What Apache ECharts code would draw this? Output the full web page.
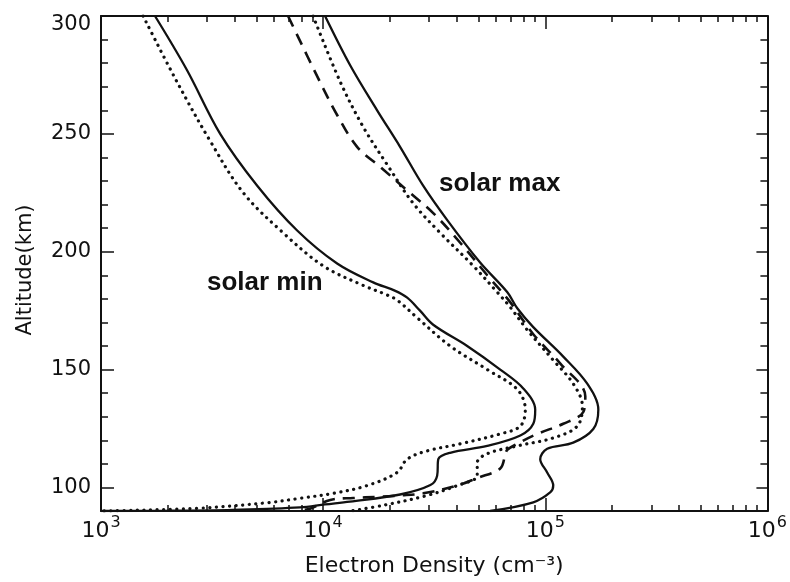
<!DOCTYPE html>
<html>
<head>
<meta charset="utf-8">
<script src="https://cdn.jsdelivr.net/npm/echarts@6/dist/echarts.min.js"></script>
<style>
  html, body { margin: 0; padding: 0; background: #fff; }
  #chart { width: 790px; height: 582px; }
</style>
</head>
<body>
<div id="chart"></div>
<script>
// ---- Axis ticks / labels ----
const xMajorTicks = [1000, 10000, 100000, 1000000];
const xTickExponents = ['3', '4', '5', '6'];
const xMinorTicks = [2000, 3000, 4000, 5000, 6000, 7000, 8000, 9000,
  20000, 30000, 40000, 50000, 60000, 70000, 80000, 90000,
  200000, 300000, 400000, 500000, 600000, 700000, 800000, 900000];
const yMajorTicks = [100, 150, 200, 250, 300];
const yMinorTicks = [110, 120, 130, 140, 160, 170, 180, 190, 210, 220, 230, 240, 260, 270, 280, 290];

// ---- Series values (electron density cm^-3, altitude km) ----
const minSolidDensity = [1750, 2440, 3440, 5050, 7640, 11560, 16800, 21000, 23900, 27300, 31300, 44500, 62700, 79600, 90100, 88300, 77200, 54800, 37300, 33000, 32600, 30400, 22200, 13200, 10200, 7870, 3930, 1980, 1000];
const minSolidAlt     = [300, 277, 250, 228, 209, 195, 187, 183.5, 180.5, 175, 169, 160, 150, 142, 133, 127, 122, 117.6, 114.7, 112, 105, 101, 97, 94, 92.8, 91.5, 90.5, 90.1, 90];

const minDotDensity = [1547, 2200, 3100, 4370, 6610, 10000, 15140, 19000, 21500, 26500, 37300, 54800, 74800, 81300, 77200, 62700, 41400, 29400, 23900, 21500, 15800, 11100, 7870, 5600, 2790, 1390, 1000];
const minDotAlt     = [300, 272, 247, 225, 208, 194, 185.7, 182, 179.5, 172, 160, 150, 141.6, 133, 126, 122.7, 118.5, 115.5, 112, 106.3, 100.8, 97.5, 95.4, 93.5, 91.2, 90.3, 90];

const maxSolidDensity = [10200, 13250, 17500, 22200, 28200, 36200, 50900, 67500, 74800, 88300, 120500, 154500, 173300, 164500, 133600, 102000, 94900, 102000, 108600, 105500, 88300, 56500];
const maxSolidAlt     = [300, 279, 260, 244.5, 228, 213.4, 195.4, 182.8, 176, 168, 155.5, 144, 133, 124.8, 119, 116.4, 112, 106.3, 100.8, 98, 93.7, 90];

const maxDotDensity = [9010, 11950, 15140, 19400, 25400, 33650, 47400, 60800, 69500, 83000, 108600, 133600, 146900, 139300, 108600, 74800, 54800, 49400, 49400, 40200, 29400, 18600, 13250];
const maxDotAlt     = [300, 272, 253, 237, 220.6, 208, 194, 182.8, 176.5, 166.8, 154, 144, 134.5, 126, 121, 117.6, 114.3, 110.5, 105, 100.8, 96.6, 92.4, 90];

const maxDashDensity = [6950, 9680, 11560, 14220, 18070, 23900, 31300, 41400, 54800, 69500, 88300, 116900, 151400, 148300, 120500, 92000, 74800, 67500, 66100, 62700, 49400, 40200, 28200, 22200, 17500, 13650, 10760, 8730, 7640];
const maxDashAlt     = [300, 272, 258, 244.5, 236, 226, 216.4, 203.8, 190, 178.6, 165, 152.5, 138.7, 132, 127, 122.7, 118.5, 116, 114, 108, 104, 100.8, 97.5, 96.6, 96, 95.5, 94.7, 91, 90];

// ---- Texts ----
const xTitle = 'Electron Density (cm\u207B\u00B3)';
const yTitle = 'Altitude(km)';
const annotations = [
  { text: 'solar max', x: 439, y: 184 },
  { text: 'solar min', x: 207, y: 283 }
];

function zip(xs, ys) { return xs.map((v, i) => [v, ys[i]]); }

const INK = '#111';
const FONT = 'DejaVu Sans';

const chart = echarts.init(document.getElementById('chart'), null, { renderer: 'canvas' });

const solid = { color: INK, width: 2.3, type: 'solid' };
const dotted = { color: INK, width: 3.2, type: [0.1, 6.5], cap: 'round' };
const dashed = { color: INK, width: 2.6, type: [12, 8] };

function lineSeries(name, data, style) {
  return {
    name: name, type: 'line', data: data,
    xAxisIndex: 0, yAxisIndex: 0,
    showSymbol: false, symbol: 'none', smooth: 0.35,
    lineStyle: style, clip: true, silent: true, animation: false
  };
}

const axisLineStyle = { show: true, lineStyle: { color: INK, width: 2 } };

const option = {
  animation: false,
  backgroundColor: '#fff',
  grid: { left: 101, right: 22, top: 16, bottom: 66, containLabel: false },
  xAxis: [
    {
      type: 'log', logBase: 10, min: 1000, max: 1000000, position: 'bottom',
      axisLine: axisLineStyle,
      axisTick: { show: true, inside: true, length: 13, customValues: xMajorTicks, lineStyle: { color: INK, width: 1.5 } },
      axisLabel: {
        show: true, customValues: xMajorTicks, margin: 9,
        formatter: function (v) {
          const idx = xMajorTicks.indexOf(v);
          const e = idx >= 0 ? xTickExponents[idx] : '';
          return '{b|10}{s|' + e + '}';
        },
        rich: {
          b: { fontFamily: FONT, fontSize: 22, color: INK, verticalAlign: 'bottom', lineHeight: 22 },
          s: { fontFamily: FONT, fontSize: 16, color: INK, verticalAlign: 'bottom', padding: [0, 0, 11, 1], lineHeight: 16 }
        }
      },
      splitLine: { show: false },
      name: xTitle, nameLocation: 'middle', nameGap: 44,
      nameTextStyle: { fontFamily: FONT, fontSize: 22, color: INK }
    },
    {
      type: 'log', logBase: 10, min: 1000, max: 1000000, position: 'bottom',
      axisLine: { show: false },
      axisTick: { show: true, inside: true, length: 6, customValues: xMinorTicks, lineStyle: { color: INK, width: 1.5 } },
      axisLabel: { show: false },
      splitLine: { show: false }
    },
    {
      type: 'log', logBase: 10, min: 1000, max: 1000000, position: 'top',
      axisLine: axisLineStyle,
      axisTick: { show: true, inside: true, length: 13, customValues: xMajorTicks, lineStyle: { color: INK, width: 1.5 } },
      axisLabel: { show: false },
      splitLine: { show: false }
    },
    {
      type: 'log', logBase: 10, min: 1000, max: 1000000, position: 'top',
      axisLine: { show: false },
      axisTick: { show: true, inside: true, length: 6, customValues: xMinorTicks, lineStyle: { color: INK, width: 1.5 } },
      axisLabel: { show: false },
      splitLine: { show: false }
    }
  ],
  yAxis: [
    {
      type: 'value', min: 90, max: 300, position: 'left',
      axisLine: axisLineStyle,
      axisTick: { show: true, inside: true, length: 13, customValues: yMajorTicks, lineStyle: { color: INK, width: 1.5 } },
      axisLabel: {
        show: true, customValues: yMajorTicks, margin: 10,
        formatter: function (v) { return v === 300 ? '{t|' + v + '}' : '{n|' + v + '}'; },
        rich: {
          n: { fontFamily: FONT, fontSize: 21, color: INK },
          t: { fontFamily: FONT, fontSize: 21, color: INK, padding: [18, 0, 0, 0] }
        }
      },
      splitLine: { show: false }
    },
    {
      type: 'value', min: 90, max: 300, position: 'left',
      axisLine: { show: false },
      axisTick: { show: true, inside: true, length: 7, customValues: yMinorTicks, lineStyle: { color: INK, width: 1.5 } },
      axisLabel: { show: false },
      splitLine: { show: false }
    },
    {
      type: 'value', min: 90, max: 300, position: 'right',
      axisLine: axisLineStyle,
      axisTick: { show: true, inside: true, length: 11, customValues: yMajorTicks, lineStyle: { color: INK, width: 1.5 } },
      axisLabel: { show: false },
      splitLine: { show: false }
    },
    {
      type: 'value', min: 90, max: 300, position: 'right',
      axisLine: { show: false },
      axisTick: { show: true, inside: true, length: 7, customValues: yMinorTicks, lineStyle: { color: INK, width: 1.5 } },
      axisLabel: { show: false },
      splitLine: { show: false }
    }
  ],
  graphic: [
    {
      type: 'text', x: 26, y: 270, rotation: Math.PI / 2,
      style: { text: yTitle, fontFamily: FONT, fontSize: 21, fill: INK, textAlign: 'center', textVerticalAlign: 'middle' }
    }
  ].concat(annotations.map(a => ({
    type: 'text', x: a.x, y: a.y,
    style: { text: a.text, fontFamily: 'Liberation Sans', fontWeight: 'bold', fontSize: 26, fill: INK, textAlign: 'left', textVerticalAlign: 'middle' }
  }))),
  series: [
    lineSeries('solar min (solid)', zip(minSolidDensity, minSolidAlt), solid),
    lineSeries('solar min (dotted)', zip(minDotDensity, minDotAlt), dotted),
    lineSeries('solar max (solid)', zip(maxSolidDensity, maxSolidAlt), solid),
    lineSeries('solar max (dotted)', zip(maxDotDensity, maxDotAlt), dotted),
    lineSeries('solar max (dashed)', zip(maxDashDensity, maxDashAlt), dashed)
  ]
};

chart.setOption(option);
</script>
</body>
</html>
